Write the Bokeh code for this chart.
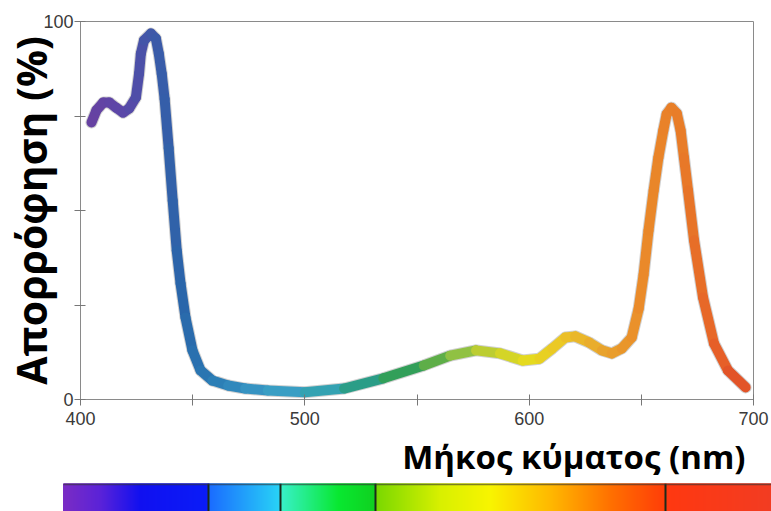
from bokeh.plotting import figure
from bokeh.models import Range1d, FixedTicker, ColumnDataSource, Title
from bokeh.transform import linear_cmap
from bokeh.layouts import column
from bokeh.embed import file_html
from bokeh.resources import INLINE

# ---- data ----
wavelength = [404.9, 407.1, 410.2, 412.8, 415.9, 419.0, 421.7, 424.7, 426.1, 426.9,
              428.3, 431.4, 433.6, 434.9, 436.2, 437.5, 439.3, 441.1, 442.9, 444.6,
              446.8, 449.9, 453.5, 458.8, 465.8, 473.4, 483.5, 500.0, 517.5, 535.0,
              553.0, 564.8, 576.3, 587.0, 597.1, 604.6, 610.3, 616.1, 620.5, 626.7,
              632.4, 636.8, 641.3, 645.7, 648.8, 651.0, 653.2, 655.5, 657.6, 659.8,
              661.3, 663.4, 665.8, 667.5, 669.0, 670.8, 673.5, 677.5, 682.4, 688.6,
              696.5]
absorption = [73.3, 76.5, 78.6, 78.6, 77.2, 75.9, 77.0, 79.9, 86.2, 91.5,
              95.0, 96.8, 95.5, 91.5, 86.2, 79.5, 66.5, 52.6, 39.4, 30.7,
              21.7, 13.0, 7.7, 5.0, 3.7, 2.9, 2.4, 1.9, 2.9, 5.6,
              9.0, 11.6, 13.0, 12.2, 10.3, 10.8, 13.5, 16.4, 16.7, 15.1,
              13.0, 12.2, 13.5, 16.4, 24.0, 33.0, 44.7, 55.3, 64.0, 71.2,
              75.5, 77.2, 75.7, 71.2, 64.0, 55.3, 42.1, 27.0, 14.8, 7.7,
              3.2]
x_ticks = [400, 450, 500, 550, 600, 650, 700]
x_tick_labels = {400: "400", 450: "", 500: "500", 550: "", 600: "600", 650: "", 700: "700"}
y_ticks = [0, 25, 50, 75, 100]
y_tick_labels = {0: "0", 25: "", 50: "", 75: "", 100: "100"}
x_title = "Μήκος κύματος (nm)"
y_title = "Απορρόφηση (%)"

# spectrum strip bands (edges in strip pixels) and colour stops
band_edges = [63, 208, 280, 375, 665, 771]
spectrum_stops = [(63, "#7a2cc4"), (100, "#5a22d8"), (140, "#1010f0"), (208, "#0a1cf8"),
                  (209, "#1a6cff"), (280, "#28d4f6"),
                  (281, "#38f0c8"), (338, "#08e830"), (375, "#10d020"),
                  (376, "#7ad800"), (440, "#d8f000"), (490, "#f8f400"), (550, "#ffb800"),
                  (610, "#ff7000"), (665, "#ff3c08"),
                  (666, "#ff3810"), (771, "#f23c22")]


def hex2rgb(h):
    h = h.lstrip("#")
    return tuple(int(h[i:i + 2], 16) for i in (0, 2, 4))


def rgb2hex(c):
    return "#%02x%02x%02x" % tuple(int(round(v)) for v in c)


def blend(stops, t):
    for (p0, c0), (p1, c1) in zip(stops[:-1], stops[1:]):
        if p0 <= t <= p1:
            f = 0 if p1 == p0 else (t - p0) / (p1 - p0)
            a, b = hex2rgb(c0), hex2rgb(c1)
            return rgb2hex([a[i] + (b[i] - a[i]) * f for i in range(3)])
    return stops[-1][1] if t > stops[-1][0] else stops[0][1]


# curve colour map (style)
curve_stops = [(400, "#6b3fa0"), (420, "#5a48a8"), (432, "#3e58a8"), (445, "#2a66aa"),
               (460, "#2a7cb4"), (480, "#3896c4"), (500, "#3aa4c4"), (520, "#2c9e98"),
               (540, "#2a9c5e"), (555, "#4ea84a"), (570, "#8ec044"), (585, "#c6d02e"),
               (600, "#e4dc1e"), (615, "#ecc626"), (632, "#e8a82e"), (650, "#ea8c2a"),
               (668, "#e87c28"), (685, "#e66028"), (700, "#de4a28")]
palette = [blend(curve_stops, 400 + 300 * i / 255) for i in range(256)]

W = 771
p = figure(width=W, height=483, output_backend="svg", toolbar_location=None,
           x_range=Range1d(400, 700), y_range=Range1d(0, 100),
           min_border_left=74, min_border_right=18, min_border_top=21, min_border_bottom=84)
p.grid.visible = False
p.background_fill_color = "white"
p.border_fill_color = "white"
p.outline_line_color = "#8a8a8a"

for ax in (p.xaxis[0], p.yaxis[0]):
    ax.axis_line_color = "#8a8a8a"
    ax.major_tick_line_color = "#777777"
    ax.minor_tick_line_color = None
    ax.major_label_text_font = "Liberation Sans"
    ax.major_label_text_font_size = "18px"
    ax.major_label_text_color = "#3a3a3a"
    ax.major_tick_in = 5
    ax.major_tick_out = 6
p.xaxis.ticker = FixedTicker(ticks=x_ticks)
p.xaxis.major_label_overrides = x_tick_labels
p.xaxis.major_label_standoff = 6
p.yaxis.ticker = FixedTicker(ticks=y_ticks)
p.yaxis.major_label_overrides = y_tick_labels
p.yaxis.major_label_standoff = 1
p.yaxis.axis_label = y_title
p.yaxis.axis_label_text_font = "Open Sans"
p.yaxis.axis_label_text_font_style = "bold"
p.yaxis.axis_label_text_font_size = "41px"
p.yaxis.axis_label_text_color = "#000000"
p.yaxis.axis_label_standoff = -19

p.add_layout(Title(text=x_title, align="right", text_font="Open Sans",
                   text_font_style="bold", text_font_size="33px", text_color="#000000",
                   standoff=8, offset=8), "below")

src = ColumnDataSource(dict(
    x0=wavelength[:-1], y0=absorption[:-1], x1=wavelength[1:], y1=absorption[1:],
    mid=[(a + b) / 2 for a, b in zip(wavelength[:-1], wavelength[1:])]))

p.line(wavelength, absorption, line_width=12, line_color="#444444", line_alpha=0.25,
       line_join="round", line_cap="round")
p.segment("x0", "y0", "x1", "y1", source=src, line_width=10, line_cap="round",
          line_color=linear_cmap("mid", palette, 400, 700))

# spectrum strip
s = figure(width=W, height=28, output_backend="svg", toolbar_location=None,
           x_range=Range1d(0, W), y_range=Range1d(0, 1), min_border=0)
s.frame_align = False
s.axis.visible = False
s.grid.visible = False
s.outline_line_color = None
xs = list(range(band_edges[0], W))
cols = [blend(spectrum_stops, x) for x in xs]
s.quad(left=xs, right=[x + 1 for x in xs], bottom=0, top=1,
       fill_color=cols, line_color=cols, line_width=1)
s.segment(x0=band_edges[1:-1], y0=0, x1=band_edges[1:-1], y1=1, line_color="#1a2a1a",
          line_width=2)
s.segment(x0=band_edges[0], y0=0.97, x1=W, y1=0.97, line_color="#333333", line_width=2,
          line_alpha=0.6)

p.frame_align = False
layout = column(p, s, spacing=0)
open("out.html", "w").write(file_html(layout, INLINE))
